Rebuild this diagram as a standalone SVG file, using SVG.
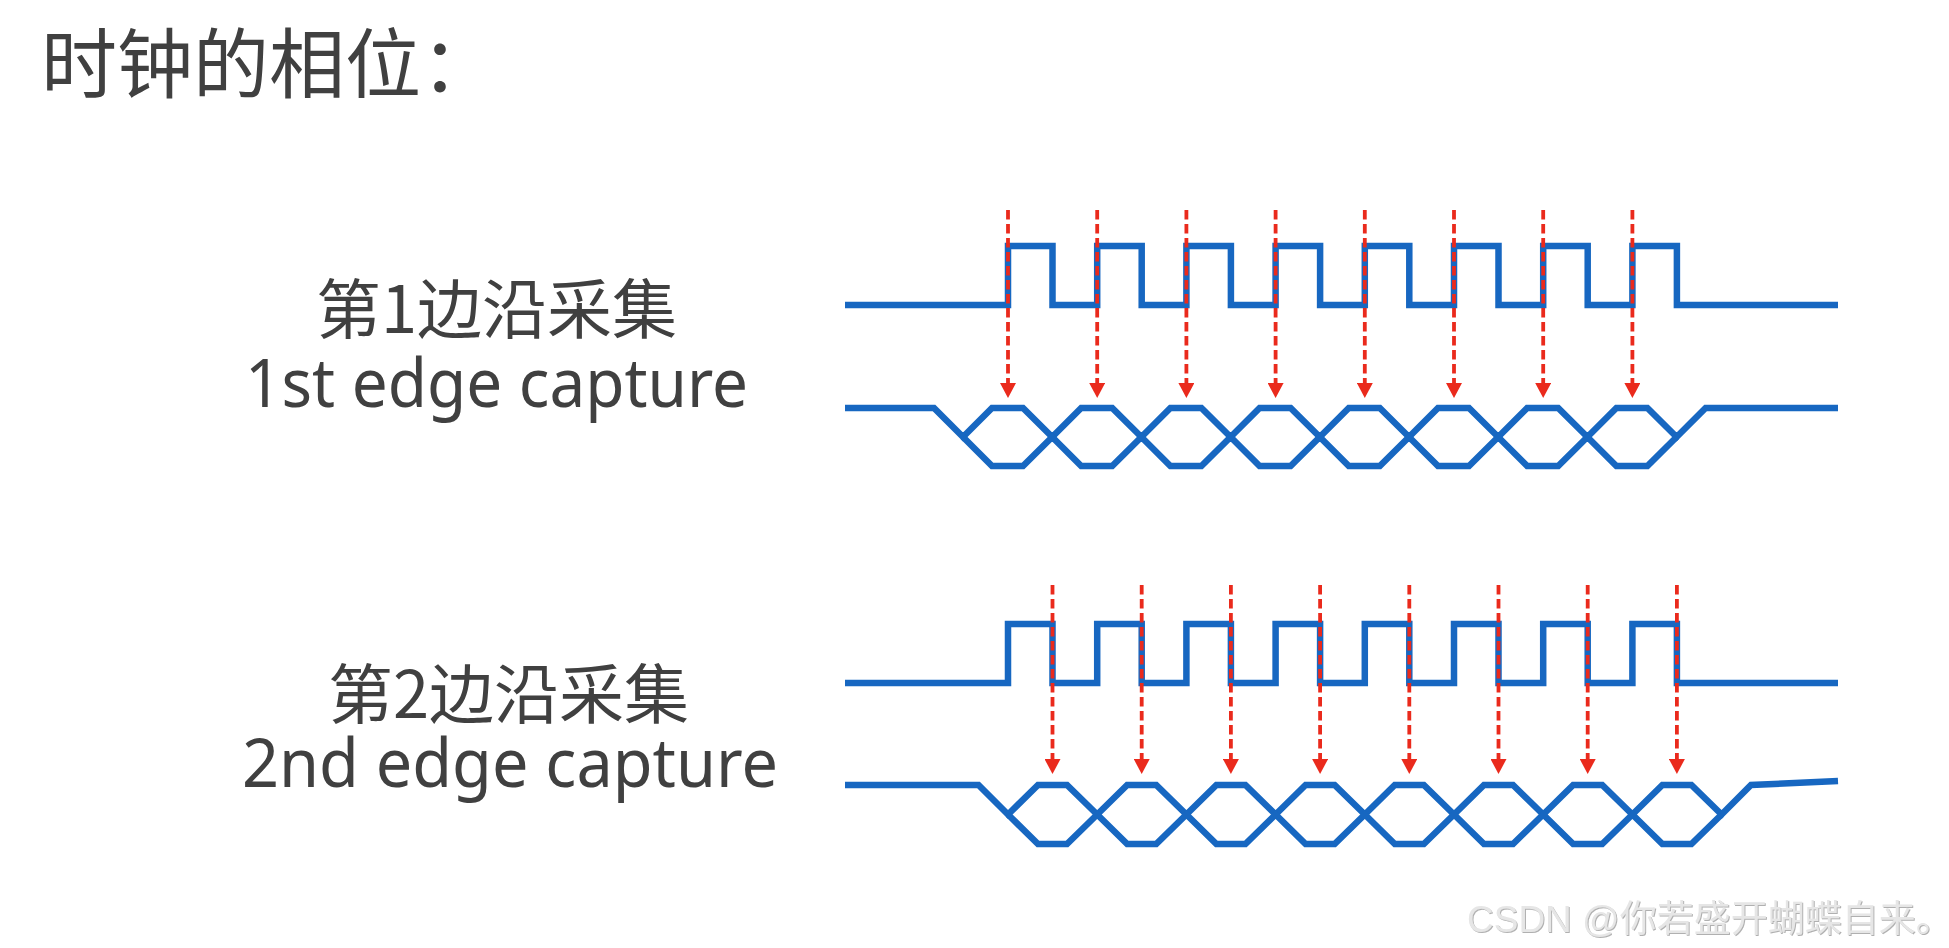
<svg xmlns="http://www.w3.org/2000/svg" width="1949" height="948" viewBox="0 0 1949 948">
<style>
  .sig { fill: none; stroke: #1767c1; stroke-width: 6.5; stroke-linejoin: miter; stroke-linecap: butt; }
  .arr { stroke: #ea2a1c; stroke-width: 3.8; stroke-dasharray: 9.5 4.5; fill: none; }
  .cn { font-family: "Noto Sans CJK SC", sans-serif; fill: #404040; }
  .en { font-family: "Noto Sans", "Open Sans", sans-serif; fill: #404040; }
  .wm { font-family: "Liberation Sans", "Noto Sans CJK SC", sans-serif; fill: #e6e6e6; }
</style>
<defs>
  <marker id="ah" markerUnits="userSpaceOnUse" markerWidth="15" markerHeight="16" refX="0" refY="8" orient="auto" viewBox="0 0 15 16">
    <path d="M0,0 L15,8 L0,16 Z" fill="#ea2a1c"/>
  </marker>
  <filter id="emb" x="-5%" y="-20%" width="110%" height="140%">
    <feDropShadow dx="1" dy="1" stdDeviation="0.6" flood-color="#a8a8a8" flood-opacity="0.9"/>
  </filter>
</defs>
<rect width="1949" height="948" fill="#ffffff"/>

<g id="title"><text class="cn" x="41" y="92" font-size="76">时钟的相位：</text></g>

<g id="label1">
  <text class="cn" x="496.5" y="333" font-size="65" text-anchor="middle">第1边沿采集</text>
  <text class="en" x="496.5" y="407" font-size="68" text-anchor="middle" textLength="503" lengthAdjust="spacingAndGlyphs">1st edge capture</text>
</g>
<g id="label2">
  <text class="cn" x="508.5" y="718" font-size="65" text-anchor="middle">第2边沿采集</text>
  <text class="en" x="510" y="787" font-size="68" text-anchor="middle" textLength="536" lengthAdjust="spacingAndGlyphs">2nd edge capture</text>
</g>

<g id="clk1"><path class="sig" d="M845,305 H1008 V246 H1052.5 V305 H1097.2 V246 H1141.7 V305 H1186.4 V246 H1230.9 V305 H1275.6 V246 H1320.1 V305 H1364.8 V246 H1409.3 V305 H1454 V246 H1498.5 V305 H1543.2 V246 H1587.7 V305 H1632.4 V246 H1676.9 V305 H1838"/></g>

<g id="data1">
  <path class="sig" d="M845,408 H934 L963,437 L992,408 H1023 L1052.2,437 L1081.2,408 H1112.2 L1141.4,437 L1170.4,408 H1201.4 L1230.6,437 L1259.6,408 H1290.6 L1319.8,437 L1348.8,408 H1379.8 L1409,437 L1438,408 H1469 L1498.2,437 L1527.2,408 H1558.2 L1587.4,437 L1616.4,408 H1647.4 L1676.6,437 L1705.6,408 H1838"/>
  <path class="sig" d="M963,437 L992,466 H1023 L1052.2,437 L1081.2,466 H1112.2 L1141.4,437 L1170.4,466 H1201.4 L1230.6,437 L1259.6,466 H1290.6 L1319.8,437 L1348.8,466 H1379.8 L1409,437 L1438,466 H1469 L1498.2,437 L1527.2,466 H1558.2 L1587.4,437 L1616.4,466 H1647.4 L1676.6,437"/>
</g>

<g id="clk2"><path class="sig" d="M845,683 H1008 V624 H1052.5 V683 H1097.2 V624 H1141.7 V683 H1186.4 V624 H1230.9 V683 H1275.6 V624 H1320.1 V683 H1364.8 V624 H1409.3 V683 H1454 V624 H1498.5 V683 H1543.2 V624 H1587.7 V683 H1632.4 V624 H1676.9 V683 H1838"/></g>

<g id="data2">
  <path class="sig" d="M845,785 H978.5 L1008,814.5 L1038,785 H1067 L1097.2,814.5 L1127.2,785 H1156.2 L1186.4,814.5 L1216.4,785 H1245.4 L1275.6,814.5 L1305.6,785 H1334.6 L1364.8,814.5 L1394.8,785 H1423.8 L1454,814.5 L1484,785 H1513 L1543.2,814.5 L1573.2,785 H1602.2 L1632.4,814.5 L1662.4,785 H1691.4 L1721.6,814.5 L1751,785 L1838,781"/>
  <path class="sig" d="M1008,814.5 L1038,844 H1067 L1097.2,814.5 L1127.2,844 H1156.2 L1186.4,814.5 L1216.4,844 H1245.4 L1275.6,814.5 L1305.6,844 H1334.6 L1364.8,814.5 L1394.8,844 H1423.8 L1454,814.5 L1484,844 H1513 L1543.2,814.5 L1573.2,844 H1602.2 L1632.4,814.5 L1662.4,844 H1691.4 L1721.6,814.5"/>
</g>

<g id="connectors">
  <g id="arrows1">
    <line class="arr" x1="1008" y1="210" x2="1008" y2="383" marker-end="url(#ah)"/>
    <line class="arr" x1="1097.2" y1="210" x2="1097.2" y2="383" marker-end="url(#ah)"/>
    <line class="arr" x1="1186.4" y1="210" x2="1186.4" y2="383" marker-end="url(#ah)"/>
    <line class="arr" x1="1275.6" y1="210" x2="1275.6" y2="383" marker-end="url(#ah)"/>
    <line class="arr" x1="1364.8" y1="210" x2="1364.8" y2="383" marker-end="url(#ah)"/>
    <line class="arr" x1="1454" y1="210" x2="1454" y2="383" marker-end="url(#ah)"/>
    <line class="arr" x1="1543.2" y1="210" x2="1543.2" y2="383" marker-end="url(#ah)"/>
    <line class="arr" x1="1632.4" y1="210" x2="1632.4" y2="383" marker-end="url(#ah)"/>
  </g>
  <g id="arrows2">
    <line class="arr" x1="1052.5" y1="585" x2="1052.5" y2="759" marker-end="url(#ah)"/>
    <line class="arr" x1="1141.7" y1="585" x2="1141.7" y2="759" marker-end="url(#ah)"/>
    <line class="arr" x1="1230.9" y1="585" x2="1230.9" y2="759" marker-end="url(#ah)"/>
    <line class="arr" x1="1320.1" y1="585" x2="1320.1" y2="759" marker-end="url(#ah)"/>
    <line class="arr" x1="1409.3" y1="585" x2="1409.3" y2="759" marker-end="url(#ah)"/>
    <line class="arr" x1="1498.5" y1="585" x2="1498.5" y2="759" marker-end="url(#ah)"/>
    <line class="arr" x1="1587.7" y1="585" x2="1587.7" y2="759" marker-end="url(#ah)"/>
    <line class="arr" x1="1676.9" y1="585" x2="1676.9" y2="759" marker-end="url(#ah)"/>
  </g>
</g>

<g id="watermark"><text class="wm" x="1467" y="932" font-size="37" filter="url(#emb)">CSDN @你若盛开蝴蝶自来。</text></g>
</svg>
